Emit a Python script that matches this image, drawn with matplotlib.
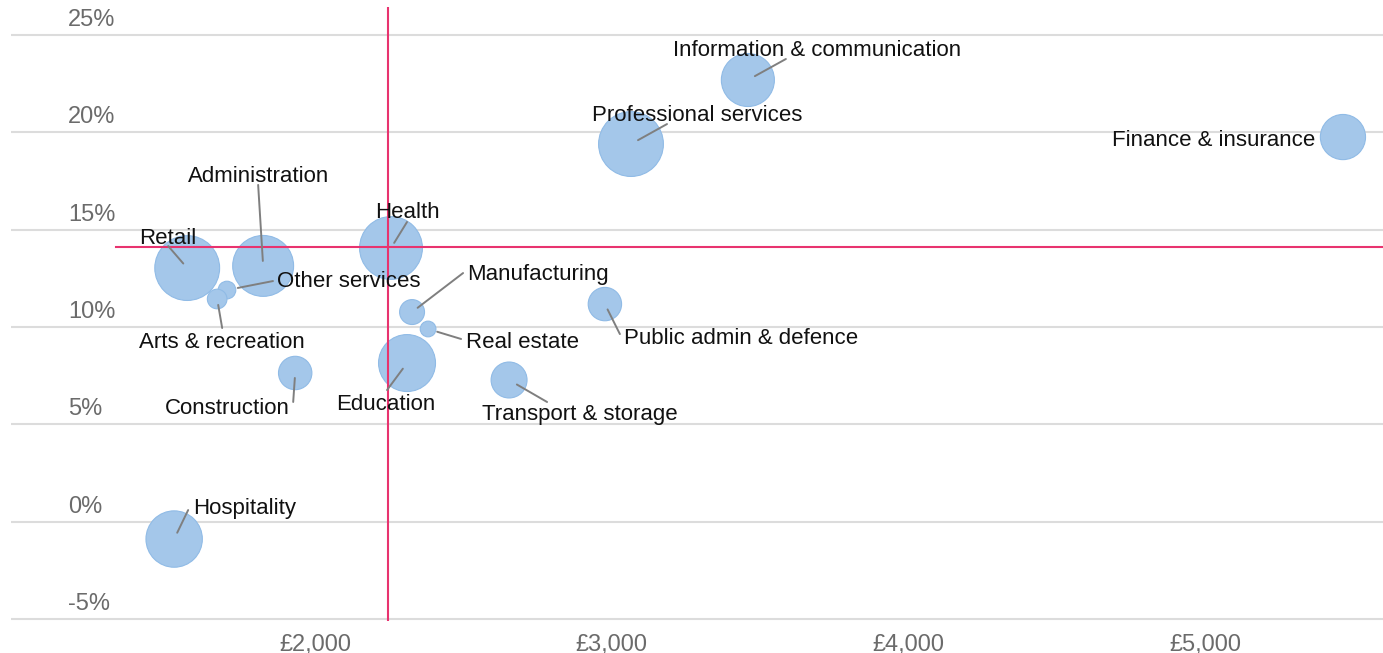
import matplotlib
matplotlib.use("Agg")
import matplotlib.pyplot as plt
from matplotlib.ticker import FuncFormatter

plt.rcParams["font.family"] = ["Liberation Sans", "DejaVu Sans"]

# Data: average monthly pay (x), pay growth % (y), bubble size (workforce)
sectors = [
    "Information & communication", "Professional services", "Finance & insurance",
    "Administration", "Health", "Retail", "Other services", "Arts & recreation",
    "Construction", "Education", "Hospitality", "Manufacturing", "Real estate",
    "Public admin & defence", "Transport & storage",
]
pay = [3459, 3065, 5465, 1825, 2256, 1569, 1703, 1670,
       1933, 2310, 1525, 2327, 2381, 2977, 2654]
growth = [22.69, 19.40, 19.76, 13.14, 14.06, 13.03, 11.90, 11.44,
          7.64, 8.15, -0.89, 10.77, 9.90, 11.18, 7.28]
workforce = [729, 1089, 529, 961, 1024, 1089, 81, 100,
             289, 841, 824, 161, 64, 289, 335]

avg_pay = 2247
avg_growth = 14.13
hline_start = 1329

y_ticks = [-5, 0, 5, 10, 15, 20, 25]
x_ticks = [2000, 3000, 4000, 5000]

# label placement (pixels relative to bubble centre): text anchor, line end, gap
label_pos = {
    "Information & communication": ((-75, 24), (38, 21), 8),
    "Professional services": ((-39, 23), (36, 20), 8),
    "Finance & insurance": ((-28, -9), None, 0),
    "Administration": ((-75, 84), (-5, 81), 5),
    "Health": ((-16, 30), (16, 26), 6),
    "Retail": ((-48, 24), (-19, 22), 6),
    "Other services": ((50, 3), (46, 9), 11),
    "Arts & recreation": ((-78, -49), (5, -29), 6),
    "Construction": ((-130, -41), (-2, -29), 5),
    "Education": ((-71, -47), (-20, -27), 7),
    "Hospitality": ((19, 25), (14, 29), 7),
    "Manufacturing": ((55, 32), (51, 39), 7),
    "Real estate": ((38, -19), (33, -10), 9.5),
    "Public admin & defence": ((19, -40), (15, -30), 6),
    "Transport & storage": ((-27, -40), (38, -22), 9),
}

fig = plt.figure(figsize=(13.83, 6.53), dpi=100)
ax = fig.add_axes([11 / 1383, 32 / 653, 1372 / 1383, 614 / 653])
ax.set_xlim(975, 5600)
ax.set_ylim(-5.1, 26.44)

# gridlines
ax.set_yticks(y_ticks)
ax.yaxis.grid(True, color="#dcdcdc", lw=1.5, zorder=0)
ax.tick_params(axis="y", length=0, labelleft=False)
for s in ax.spines.values():
    s.set_visible(False)

for v in y_ticks:
    ax.annotate(f"{v}%", xy=(0.0415, v), xycoords=ax.get_yaxis_transform(),
                xytext=(0, 15), textcoords="offset pixels",
                ha="left", va="center", fontsize=17, color="#6b6b6b")

ax.set_xticks(x_ticks)
ax.xaxis.set_major_formatter(FuncFormatter(lambda v, p: f"£{v:,.0f}"))
ax.tick_params(axis="x", length=0, pad=9, labelsize=17, labelcolor="#6b6b6b")

# bubbles
ax.scatter(pay, growth, s=[w * 2.0 for w in workforce], color="#a4c7ea",
           edgecolor="#90bbe6", linewidth=0.8, zorder=2)

# average lines
ax.axvline(avg_pay, color="#e8336f", lw=1.5, zorder=4)
ax.plot([hline_start, 5600], [avg_growth, avg_growth], color="#e8336f",
        lw=1.5, zorder=4)

# labels and connectors
for name, x, y in zip(sectors, pay, growth):
    (tx, ty), line_end, gap = label_pos[name]
    ha = "right" if name == "Finance & insurance" else "left"
    ax.annotate(name, xy=(x, y), xytext=(tx, ty), textcoords="offset pixels",
                ha=ha, va="baseline", fontsize=16, color="#111111", zorder=5)
    if line_end is not None:
        ax.annotate("", xy=(x, y), xytext=line_end, textcoords="offset pixels",
                    arrowprops=dict(arrowstyle="-", color="#7f7f7f", lw=1.4,
                                    shrinkA=0, shrinkB=gap * 0.72),
                    zorder=5)

fig.savefig("out.png", dpi=100)
